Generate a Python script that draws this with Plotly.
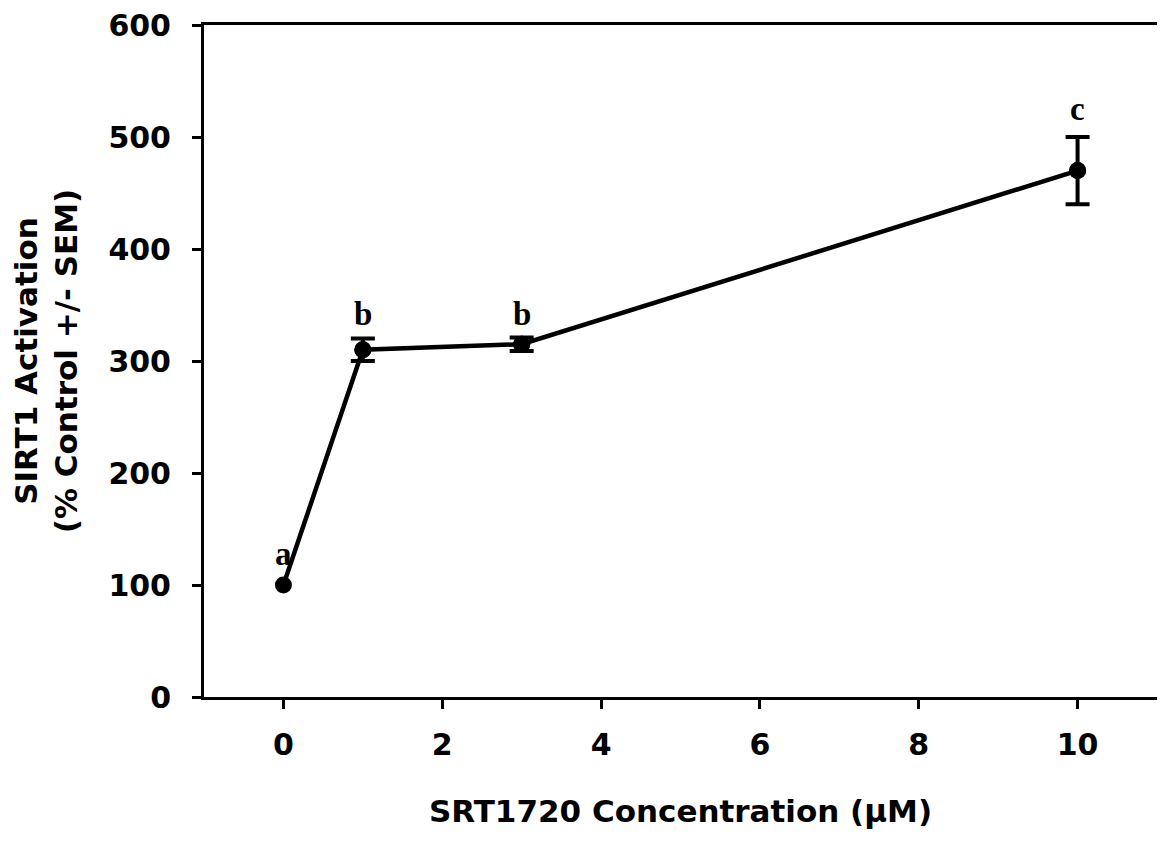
import plotly.graph_objects as go

conc = [0, 1, 3, 10]
activation = [100, 310, 315, 470]
sem = [0, 10, 6, 30]
letters = ["a", "b", "b", "c"]
letter_y = [128, 342, 342, 525]

x_ticks = [0, 2, 4, 6, 8, 10]
y_ticks = [0, 100, 200, 300, 400, 500, 600]

FONT = "DejaVu Sans"

fig = go.Figure()
# error bars only for points that have a non-zero SEM
eb_x = [c for c, s in zip(conc, sem) if s > 0]
eb_y = [a for a, s in zip(activation, sem) if s > 0]
eb_s = [s for s in sem if s > 0]
fig.add_trace(go.Scatter(
    x=eb_x, y=eb_y, mode="markers",
    marker=dict(color="black", size=17),
    error_y=dict(type="data", array=eb_s, visible=True, color="black",
                 thickness=4, width=12),
    showlegend=False, hoverinfo="skip",
))
fig.add_trace(go.Scatter(
    x=conc, y=activation, mode="lines+markers",
    line=dict(color="black", width=4.5),
    marker=dict(color="black", size=17),
    showlegend=False,
))

for xv, yv, t in zip(conc, letter_y, letters):
    fig.add_annotation(x=xv, y=yv, text="<b>%s</b>" % t, showarrow=False,
                       font=dict(family="Liberation Serif", size=33, color="black"),
                       xanchor="center", yanchor="middle")

axis_font = dict(family=FONT, size=31, color="black")
tick_font = dict(family=FONT, size=30, color="black", weight="bold")
# page body has an 8px default margin: size the figure so that nothing overflows
fig.update_layout(
    width=1149, height=827,
    margin=dict(l=196, r=0, t=17, b=138),
    plot_bgcolor="white", paper_bgcolor="white",
    font=dict(family=FONT, color="black"),
)
fig.update_xaxes(
    range=[-1, 11], tickvals=x_ticks, ticktext=[str(v) for v in x_ticks],
    showgrid=False, zeroline=False, showline=True, linecolor="black", linewidth=3,
    mirror=True, ticks="outside", ticklen=9, tickwidth=2.5, tickcolor="black",
    tickfont=tick_font, ticklabelstandoff=10, automargin=False,
    ticklabeloverflow="allow",
    title=dict(text="<b>SRT1720 Concentration (μM)</b>", font=axis_font, standoff=40),
)
fig.update_yaxes(
    range=[0, 600], tickvals=y_ticks, ticktext=[str(v) for v in y_ticks],
    showgrid=False, zeroline=False, showline=True, linecolor="black", linewidth=3,
    mirror=True, ticks="outside", ticklen=9, tickwidth=2.5, tickcolor="black",
    tickfont=tick_font, ticklabelstandoff=15, automargin=False,
    ticklabeloverflow="allow",
    title=dict(text="<b>SIRT1 Activation<br>(% Control +/- SEM)</b>", font=axis_font, standoff=28),
)

fig.write_html("out.html")
